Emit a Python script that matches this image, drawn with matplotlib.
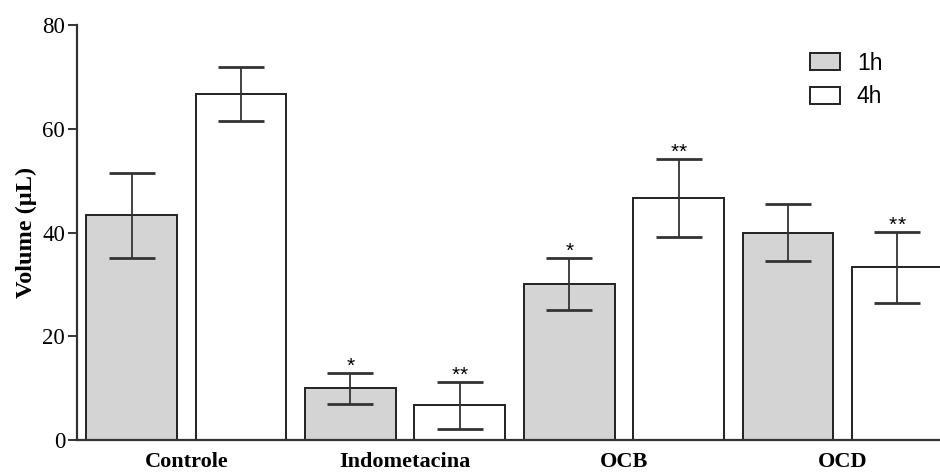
import matplotlib
matplotlib.use("Agg")
import matplotlib.pyplot as plt
import numpy as np

# Paw oedema volume by treatment group at 1 h and 4 h
groups = ["Controle", "Indometacina", "OCB", "OCD"]
times = ["1h", "4h"]
mean_1h = [43.3, 10.0, 30.0, 40.0]
err_1h = [8.2, 3.0, 5.0, 5.4]
mean_4h = [66.7, 6.7, 46.7, 33.3]
err_4h = [5.3, 4.5, 7.5, 6.8]
sig_1h = ["", "*", "*", ""]
sig_4h = ["", "**", "**", "**"]

serif = "Liberation Serif"
sans = "Liberation Sans"

fig = plt.figure(figsize=(9.40, 4.72), dpi=100)
ax = fig.add_axes([0.0819, 0.0678, 0.9181, 0.8792])

width = 0.83
edge = "#222222"
idx = np.arange(len(groups))
x1 = idx * 2
x4 = idx * 2 + 1

ekw = dict(ecolor="#333333", elinewidth=1.3, capsize=16.5, capthick=2.0)
ax.bar(x1, mean_1h, width, color="#d4d4d4", edgecolor=edge, linewidth=1.4,
       yerr=err_1h, error_kw=ekw, label=times[0], zorder=2)
ax.bar(x4, mean_4h, width, color="white", edgecolor=edge, linewidth=1.4,
       yerr=err_4h, error_kw=ekw, label=times[1], zorder=2)

# significance marks: each star placed individually, slightly spaced
for xs, ms, es, ss in [(x1, mean_1h, err_1h, sig_1h), (x4, mean_4h, err_4h, sig_4h)]:
    for x, m, e, s in zip(xs, ms, es, ss):
        n = len(s)
        for k in range(n):
            dx = (k - (n - 1) / 2) * 6.2
            ax.annotate("*", (x, m + e), xytext=(dx, -2), textcoords="offset points",
                        ha="center", va="bottom", fontsize=15, family=sans)

ax.set_xlim(-0.5, 7.389)
ax.set_ylim(0, 80)
ax.set_yticks([0, 20, 40, 60, 80])
ax.set_xticks(idx * 2 + 0.5)
ax.set_xticklabels(groups, family=serif, fontweight="bold", fontsize=16)
for lab in ax.get_yticklabels():
    lab.set_family(serif)
    lab.set_fontsize(16.5)
ax.tick_params(axis="x", length=0, pad=8.5)
ax.tick_params(axis="y", length=6.5, width=1.4, color="#333333", pad=2)

ax.spines["top"].set_visible(False)
ax.spines["right"].set_visible(False)
for sp in ("left", "bottom"):
    ax.spines[sp].set_linewidth(1.6)
    ax.spines[sp].set_color("#333333")

ax.set_ylabel("Volume (µL)", family=serif, fontweight="bold", fontsize=17.5, labelpad=4)

leg = ax.legend(loc="upper right", bbox_to_anchor=(0.957, 0.985), frameon=False,
                prop={"family": sans, "size": 16.5}, handlelength=1.3,
                handleheight=0.75, handletextpad=0.75, labelspacing=0.45)

fig.savefig("out.png", dpi=100)
